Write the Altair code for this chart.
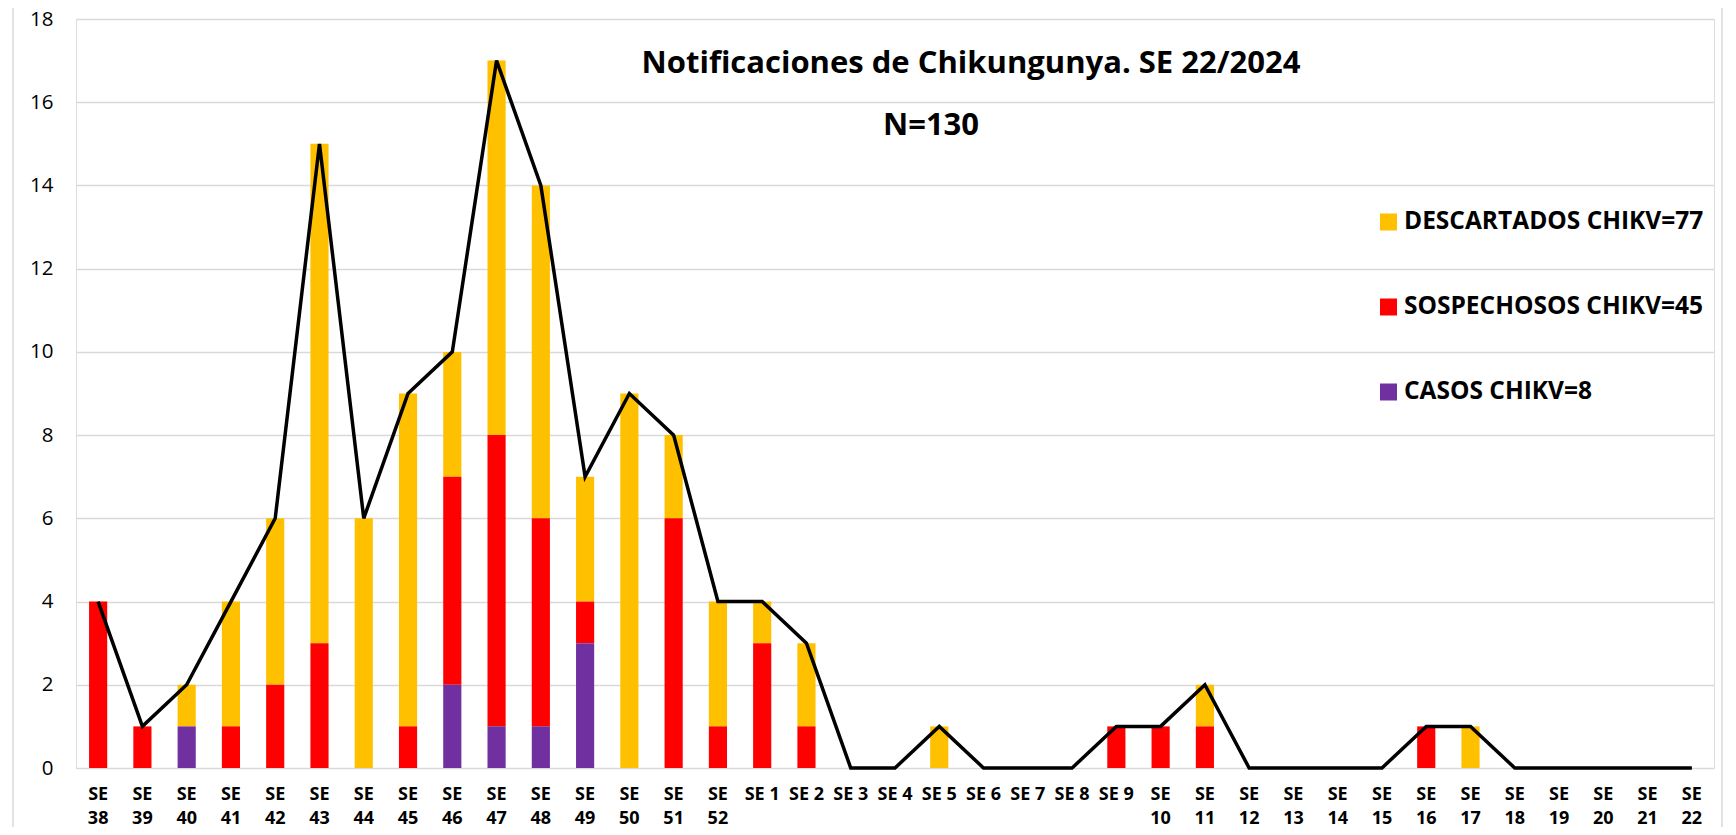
import altair as alt
import pandas as pd

weeks = [f"SE {w}" for w in range(38, 53)] + [f"SE {w}" for w in range(1, 23)]
descartados = [0, 0, 1, 3, 4, 12, 6, 8, 3, 9, 8, 3, 9, 2, 3,
               1, 2, 0, 0, 1, 0, 0, 0, 0, 0, 1, 0, 0, 0, 0, 0, 1, 0, 0, 0, 0, 0]
sospechosos = [4, 1, 0, 1, 2, 3, 0, 1, 5, 7, 5, 1, 0, 6, 1,
               3, 1, 0, 0, 0, 0, 0, 0, 1, 1, 1, 0, 0, 0, 0, 1, 0, 0, 0, 0, 0, 0]
casos = [0, 0, 1, 0, 0, 0, 0, 0, 2, 1, 1, 3, 0, 0, 0,
         0, 0, 0, 0, 0, 0, 0, 0, 0, 0, 0, 0, 0, 0, 0, 0, 0, 0, 0, 0, 0, 0]
series_names = ["DESCARTADOS CHIKV=77", "SOSPECHOSOS CHIKV=45", "CASOS CHIKV=8"]
series_colors = ["#FFC000", "#FF0000", "#7030A0"]
stack_order = [2, 1, 0]
title_text = "Notificaciones de Chikungunya. SE 22/2024"
subtitle_text = "N=130"
y_ticks = list(range(0, 19, 2))

FONT = "Open Sans, sans-serif"

rows = []
for i, w in enumerate(weeks):
    for name, vals, o in zip(series_names, [descartados, sospechosos, casos], stack_order):
        if vals[i] > 0:
            rows.append({"semana": w, "serie": name, "valor": vals[i], "ord": o})
bars_df = pd.DataFrame(rows)
total_df = pd.DataFrame({"semana": weeks,
                         "total": [d + s + c for d, s, c in zip(descartados, sospechosos, casos)]})
legend_df = pd.DataFrame({"serie": series_names})

W, H = 1638, 749

color_enc = alt.Color("serie:N", scale=alt.Scale(domain=series_names, range=series_colors),
                      legend=None)
x_enc = alt.X("semana:N", sort=weeks, title=None,
              scale=alt.Scale(paddingInner=0.59, paddingOuter=0.295),
              axis=alt.Axis(labelAngle=0, domain=False, ticks=False, grid=False,
                            labelFont=FONT, labelFontWeight="bold", labelFontSize=18,
                            labelColor="#000000", labelPadding=17, labelLineHeight=24,
                            labelBaseline="top",
                            labelExpr="length(datum.label) > 4 ? split(datum.label, ' ') : datum.label"))
y_scale = alt.Scale(domain=[0, 18], nice=False)

bars = alt.Chart(bars_df).mark_bar().encode(
    x=x_enc,
    y=alt.Y("valor:Q", stack="zero", scale=y_scale, title=None,
            axis=alt.Axis(values=y_ticks, domain=False, ticks=False, grid=True,
                          gridColor="#D9D9D9", gridWidth=1.5,
                          labelFont=FONT, labelFontSize=20.5, labelColor="#000000",
                          labelPadding=23)),
    color=color_enc,
    order=alt.Order("ord:Q", sort="ascending"),
)

line = alt.Chart(total_df).mark_line(color="#000000", strokeWidth=3.5).encode(
    x=alt.X("semana:N", sort=weeks),
    y=alt.Y("total:Q", scale=y_scale, axis=None),
)

leg_y = alt.Y("serie:N", sort=series_names, axis=None,
              scale=alt.Scale(type="point", range=[203, 373], padding=0))
legend_sq = alt.Chart(legend_df).mark_square(size=289, opacity=1).encode(
    x=alt.value(1312.5), y=leg_y, color=color_enc)
legend_tx = alt.Chart(legend_df).mark_text(
    font=FONT, fontWeight="bold", fontSize=24.5, color="#000000", align="left", baseline="middle"
).encode(x=alt.value(1328), y=leg_y, text="serie:N")

title = alt.Chart(pd.DataFrame({"t": [title_text]})).mark_text(
    font=FONT, fontWeight="bold", fontSize=31, color="#000000", align="center", baseline="alphabetic"
).encode(text="t:N", x=alt.value(895), y=alt.value(54))

subtitle = alt.Chart(pd.DataFrame({"t": [subtitle_text]})).mark_text(
    font=FONT, fontWeight="bold", fontSize=31, color="#000000", align="center", baseline="alphabetic"
).encode(text="t:N", x=alt.value(855), y=alt.value(116))

border = alt.Chart(pd.DataFrame({"a": [0]})).mark_rect(
    fill=None, stroke="#D9D9D9", strokeWidth=1.5
).encode(x=alt.value(-63), x2=alt.value(1646), y=alt.value(-14), y2=alt.value(830))

chart = alt.layer(border, bars, line, legend_sq, legend_tx, title, subtitle).resolve_scale(
    y="independent"
).properties(
    width=W, height=H,
    autosize=alt.AutoSizeParams(type="none"),
    padding={"left": 68, "top": 11, "right": 14, "bottom": 59},
).configure_view(stroke=None).configure(background="#FFFFFF")

chart.save("out.html", embed_options={"renderer": "svg", "actions": False})
